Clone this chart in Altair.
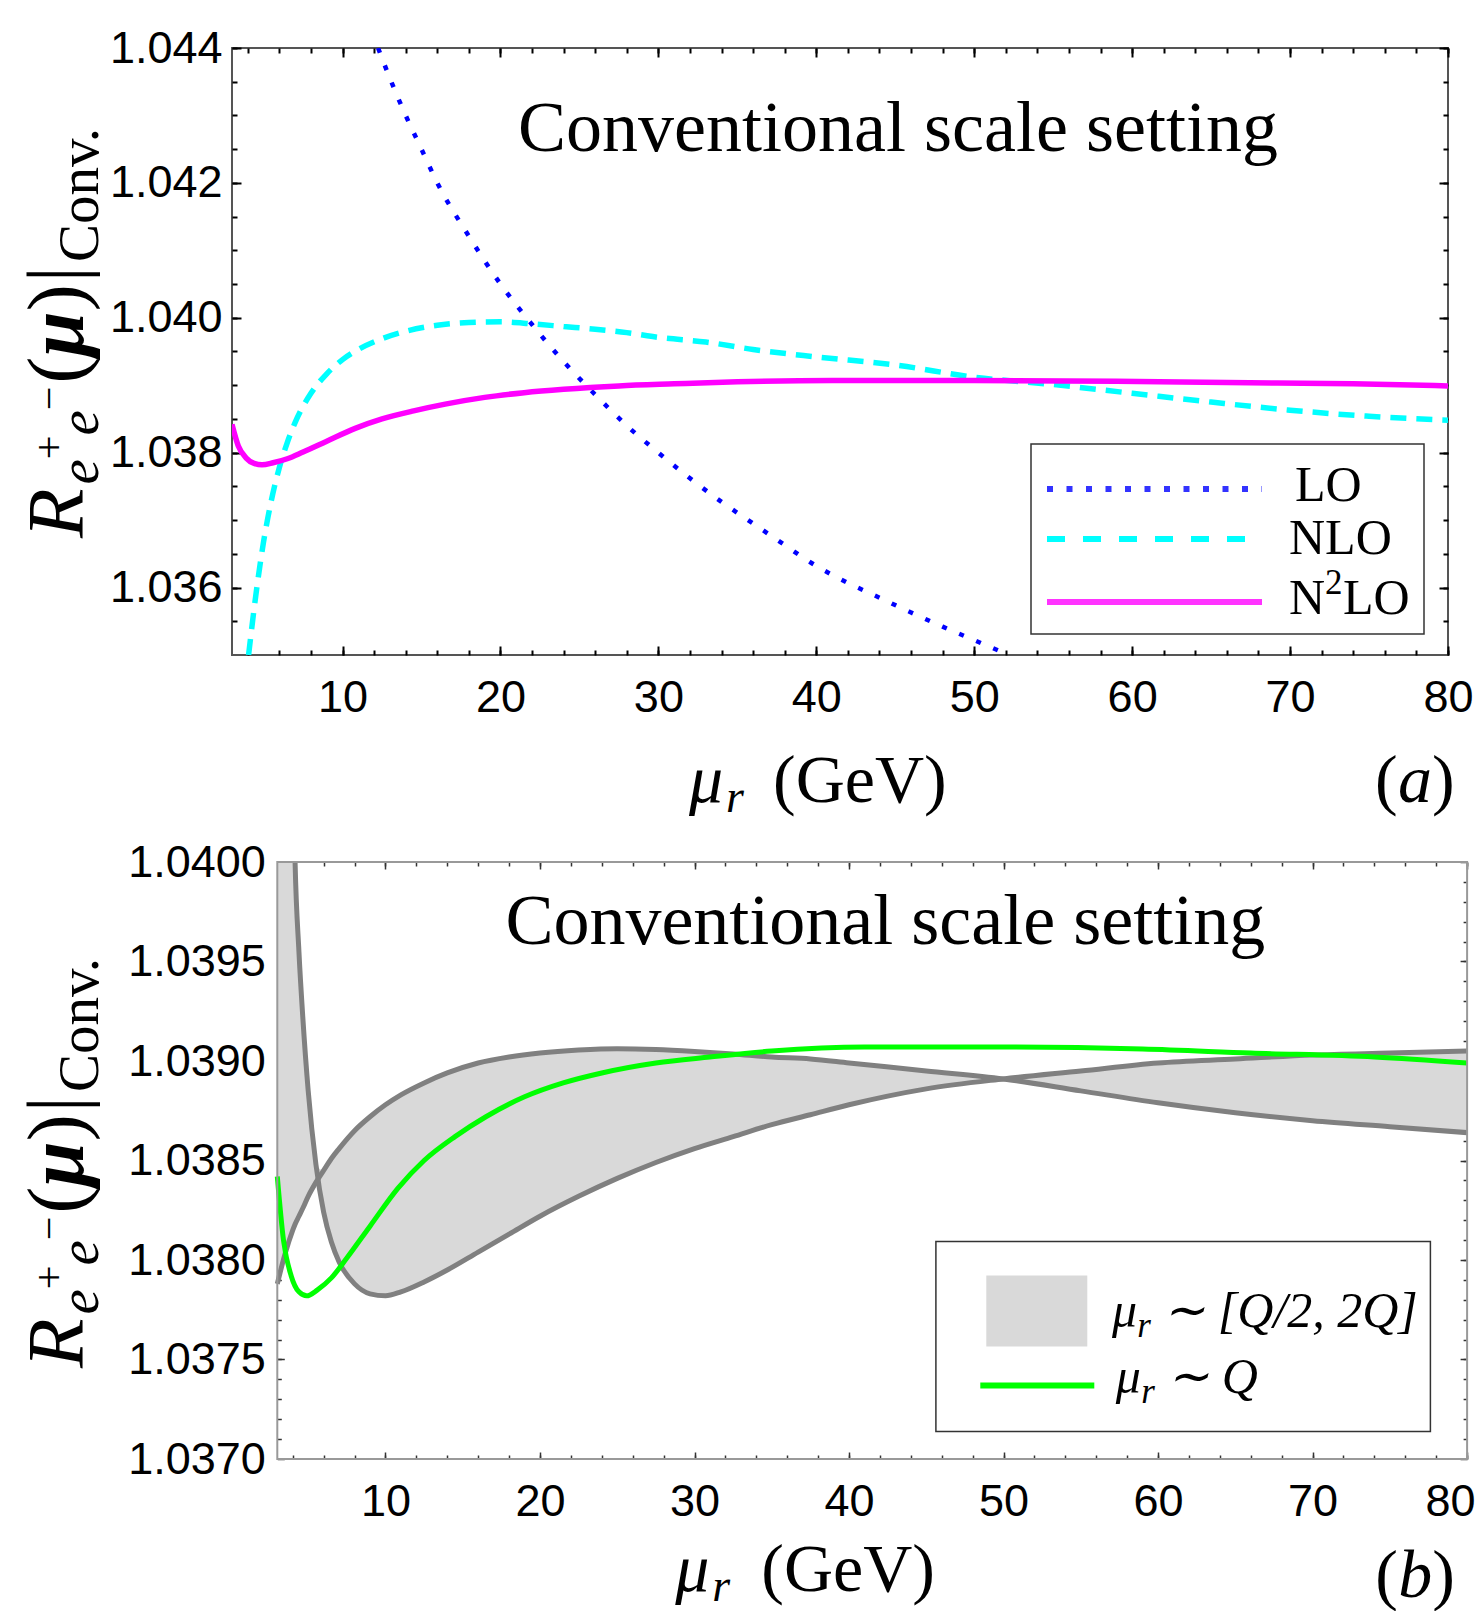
import altair as alt
import pandas as pd

# ---------------- data ----------------
LO_X = [12.25, 13, 14, 15, 16, 18, 20, 22, 24, 26, 28, 30, 32, 34, 36, 38, 40, 42, 44, 46, 48, 50, 52.2]
LO_Y = [1.04400, 1.04355, 1.04300, 1.04250, 1.04200, 1.04121, 1.04050, 1.03990, 1.03935, 1.03886,
        1.03840, 1.03800, 1.03762, 1.03727, 1.03695, 1.03663, 1.03632, 1.03607, 1.03585, 1.03563,
        1.03542, 1.03522, 1.03500]

NLO_X = [4.05, 4.5, 5.0, 5.5, 6.0, 6.5, 7.0, 8.0, 9.0, 10.0, 11.0, 12.5, 14.0, 16.0, 18.0, 20.0,
         22.0, 24.0, 26.0, 28.0, 30.0, 33.0, 36.0, 40.0, 45.0, 50.0, 55.0, 60.0, 65.0, 70.0, 75.0, 80.0]
NLO_Y = [1.03500, 1.03587, 1.03668, 1.03730, 1.03778, 1.03815, 1.03845, 1.03888, 1.03917, 1.03938,
         1.03953, 1.03969, 1.03980, 1.03989, 1.03993, 1.03994, 1.03991, 1.03987, 1.03983, 1.03978,
         1.03971, 1.03964, 1.03953, 1.03942, 1.03930, 1.03912, 1.03901, 1.03888, 1.03875, 1.03863,
         1.03854, 1.03848]

N2LO_X = [3.0, 3.4, 3.9, 4.4, 4.9, 5.6, 6.5, 7.5, 9.0, 10.8, 12.5, 14.5, 16.5, 19.0, 21.5, 24.0,
          27.5, 31.0, 35.0, 41.0, 50.0, 59.0, 66.0, 74.0, 80.0]
N2LO_Y = [1.03842, 1.03810, 1.03792, 1.03784, 1.03782, 1.03785, 1.03791, 1.03801, 1.03817, 1.03836,
          1.03850, 1.03862, 1.03872, 1.03882, 1.03889, 1.03894, 1.03899, 1.03902, 1.03905, 1.03907,
          1.03907, 1.03906, 1.03904, 1.03902, 1.03899]

BAND_X = [3.0, 3.5, 4.0, 4.15, 4.4, 4.65, 5.0, 5.5, 6.0, 6.5, 7.0, 8.0, 9.0, 10.0, 11.0, 12.5, 14.0,
          16.0, 18.0, 20.0, 22.5, 25.0, 27.5, 30.0, 32.5, 35.0, 37.5, 40.0, 45.0, 50.0, 55.0, 60.0,
          65.0, 70.0, 75.0, 80.0]
CURVE_A = [1.0470, 1.0432, 1.0406, 1.0400, 1.03955, 1.03922, 1.03885, 1.03848, 1.03824, 1.03809,
           1.03799, 1.03788, 1.03783, 1.03782, 1.03784, 1.03789, 1.03795, 1.03804, 1.03813, 1.03822,
           1.03832, 1.03841, 1.03849, 1.03856, 1.03862, 1.03868, 1.03873, 1.03878, 1.03886, 1.03891,
           1.03895, 1.03899, 1.03901, 1.03903, 1.03904, 1.03905]
CURVE_B = [1.03788, 1.03803, 1.03815, 1.03818, 1.03822, 1.03826, 1.03832, 1.03839, 1.03845, 1.03851,
           1.03856, 1.03865, 1.03872, 1.03878, 1.03883, 1.03889, 1.03894, 1.03899, 1.03902, 1.039040,
           1.039055, 1.039062, 1.039058, 1.039048, 1.039035, 1.03902, 1.03901, 1.03899, 1.03895, 1.03891,
           1.03885, 1.03879, 1.03874, 1.03870, 1.03867, 1.03864]

X_MAJOR = [10, 20, 30, 40, 50, 60, 70, 80]
X_MINOR = list(range(4, 81, 2))
TOP_Y_MAJOR = [1.036, 1.038, 1.040, 1.042, 1.044]
TOP_Y_MINOR = [round(1.0355 + 0.0005 * i, 4) for i in range(18)]
BOT_Y_MAJOR = [1.0370, 1.0375, 1.0380, 1.0385, 1.0390, 1.0395, 1.0400]
BOT_Y_MINOR = [round(1.0371 + 0.0001 * i, 4) for i in range(29)]

# ---------------- helpers ----------------
SERIF = "Liberation Serif"
SANS = "Liberation Sans"
one = pd.DataFrame({"k": [0]})

df_lo = pd.DataFrame({"x": LO_X, "y": LO_Y})
df_nlo = pd.DataFrame({"x": NLO_X, "y": NLO_Y})
df_n2 = pd.DataFrame({"x": N2LO_X, "y": N2LO_Y})
df_band = pd.DataFrame({"x": BAND_X,
                        "lo": [min(a, b) for a, b in zip(CURVE_A, CURVE_B)],
                        "hi": [max(a, b) for a, b in zip(CURVE_A, CURVE_B)]})
df_a = pd.DataFrame({"x": BAND_X, "y": CURVE_A})
df_b = pd.DataFrame({"x": BAND_X, "y": CURVE_B})


def txt(s, x, y, size, style="normal", align="left", baseline="alphabetic", angle=0, weight="normal"):
    return alt.Chart(one).mark_text(
        text=s, font=SERIF, fontSize=size, fontStyle=style, fontWeight=weight, align=align,
        baseline=baseline, angle=angle, color="black"
    ).encode(x=alt.value(x), y=alt.value(y))


def hline(x1, x2, y, color, width, dash=None):
    kw = dict(color=color, strokeWidth=width, strokeCap="butt")
    if dash:
        kw["strokeDash"] = dash
    return alt.Chart(one).mark_rule(**kw).encode(x=alt.value(x1), x2=alt.value(x2), y=alt.value(y))


def box(x1, x2, y1, y2, fill, stroke=None, sw=0, fill_opacity=1):
    kw = dict(fill=fill, fillOpacity=fill_opacity)
    if stroke:
        kw.update(stroke=stroke, strokeWidth=sw)
    return alt.Chart(one).mark_rect(**kw).encode(
        x=alt.value(x1), x2=alt.value(x2), y=alt.value(y1), y2=alt.value(y2))


def axis_carriers(xs, ys, yfmt, major, minor, tcol, tw, padx, pady, ymaj, ymin, left_shift=0.0,
                  flush_last=False):
    out = []
    specs = [("bottom", "left", X_MAJOR, ymaj, major, True),
             ("bottom", "left", X_MINOR, ymin, minor, False),
             ("top", "right", X_MAJOR, ymaj, major, False),
             ("top", "right", X_MINOR, ymin, minor, False)]
    for xo, yo, xv, yv, ts, lab in specs:
        common = dict(tickSize=ts, domain=False, grid=False, labels=lab, title=None,
                      tickColor=tcol, tickWidth=tw, labelFont=SANS, labelFontSize=45,
                      labelColor="black")
        if flush_last:
            xa = alt.Axis(orient=xo, values=xv, offset=-ts, labelPadding=padx, labelFlush=True,
                          labelFlushOffset=8, format="d", **common)
        else:
            xa = alt.Axis(orient=xo, values=xv, offset=-ts, labelPadding=padx, labelFlush=False,
                          format="d", **common)
        yoff = -(ts + left_shift) if yo == "left" else -ts
        ya = alt.Axis(orient=yo, values=yv, offset=yoff, labelPadding=pady, format=yfmt, **common)
        out.append(alt.Chart(df_n2).mark_point(opacity=0, clip=True).encode(
            x=alt.X("x:Q", scale=xs, axis=xa), y=alt.Y("y:Q", scale=ys, axis=ya)))
    return out


def ytitle(xb, y0):
    M, S, SS = 81, 57, 42
    pieces = [("R", M, "italic", "normal", 0, 0.611 * M + 4),
              ("e", S, "italic", "normal", 15, 0.444 * S),
              ("+", SS, "normal", "normal", -20, 0.564 * SS),
              ("e", S, "italic", "normal", 15, 0.444 * S),
              ("\u2212", SS, "normal", "normal", -20, 0.564 * SS + 3),
              ("(", M, "normal", "normal", 0, 0.333 * M),
              ("\u03bc", M, "italic", "bold", 0, 0.56 * M),
              (")", M, "normal", "normal", 0, 0.333 * M + 2),
              ("|", M, "normal", "normal", 0, 0.2 * M + 4),
              ("Conv.", S, "normal", "normal", 15, 2.417 * S)]
    layers, off = [], 0.0
    for t, size, style, weight, shift, adv in pieces:
        layers.append(txt(t, xb + shift, y0 - off, size, style=style, angle=270, weight=weight))
        off += adv
    return layers


def xtitle(xmu, xgev, yb, xpar, ypar, letter):
    return [txt("\u03bc", xmu, yb, 68, "italic"),
            txt("r", xmu + 37, yb + 10, 46, "italic"),
            txt("(GeV)", xgev, yb, 68),
            txt("(", xpar, ypar, 68),
            txt(letter, xpar + 23, ypar, 68, "italic"),
            txt(")", xpar + 57, ypar, 68)]


def line(df, color, width, dash=None, scale_x=None, scale_y=None):
    kw = dict(color=color, strokeWidth=width, clip=True, interpolate="monotone")
    if dash:
        kw["strokeDash"] = dash
    return alt.Chart(df).mark_line(**kw).encode(
        x=alt.X("x:Q", scale=scale_x, axis=None), y=alt.Y("y:Q", scale=scale_y, axis=None))


# ---------------- top panel ----------------
W1, H1 = 1216, 607
xs1 = alt.Scale(domain=[3, 80], nice=False, zero=False)
ys1 = alt.Scale(domain=[1.035, 1.044], nice=False, zero=False)

top_layers = axis_carriers(xs1, ys1, ".3f", 9, 5, "black", 2, 20, 10, TOP_Y_MAJOR, TOP_Y_MINOR)
top_layers += [
    line(df_lo, "#0000ff", 4.5, [5, 13.5], xs1, ys1),
    line(df_nlo, "#00ffff", 5.5, [16, 10], xs1, ys1),
    line(df_n2, "#ff00ff", 5.5, None, xs1, ys1),
    txt("Conventional scale setting", 666, 103, 72, align="center"),
    box(799, 1192, 396, 586, "white", "#333333", 1.5),
    hline(815, 1030, 441, "#3333ff", 6, [6, 13.5]),
    hline(815, 1030, 491, "#00ffff", 6, [18, 18]),
    hline(815, 1030, 554, "#ff33ff", 6),
    txt("LO", 1063, 453, 50),
    txt("NLO", 1057, 506, 50),
    txt("N", 1057, 566, 50),
    txt("2", 1093, 546, 35),
    txt("LO", 1111, 566, 50),
]
top_layers += ytitle(-148.6, 490)
top_layers += xtitle(457, 541, 753.7, 1143, 753.7, "a")

top = alt.layer(*top_layers).resolve_scale(x="shared", y="shared").resolve_axis(
    x="independent", y="independent").properties(
    width=W1, height=H1, view=alt.ViewBackground(stroke="#555555", strokeWidth=2, fill="white"))

# ---------------- bottom panel ----------------
# the bottom frame starts DX px to the right of the top frame (same view origin)
DX = 45.3
W2, H2 = 1235.1, 597
xs2 = alt.Scale(domain=[3, 80], range=[DX, W2], nice=False, zero=False)
ys2 = alt.Scale(domain=[1.037, 1.040], nice=False, zero=False)

bot_layers = axis_carriers(xs2, ys2, ".4f", 7, 4, "#333333", 1.5, 20, 12, BOT_Y_MAJOR, BOT_Y_MINOR,
                           left_shift=DX, flush_last=True)
bot_layers += [
    alt.Chart(df_band).mark_area(color="#d9d9d9", opacity=1, clip=True, interpolate="monotone").encode(
        x=alt.X("x:Q", scale=xs2, axis=None), y=alt.Y("lo:Q", scale=ys2, axis=None), y2="hi:Q"),
    line(df_a, "#808080", 5, None, xs2, ys2),
    line(df_b, "#808080", 5, None, xs2, ys2),
    line(df_n2, "#00ff00", 5, None, xs2, ys2),
    box(DX, W2, 0, H2, "white", "#999999", 2, fill_opacity=0),
    txt("Conventional scale setting", 608 + DX, 82, 72, align="center"),
    box(658.6 + DX, 1153.1 + DX, 379.6, 569.4, "white", "#333333", 1.5),
    box(709 + DX, 810 + DX, 413.4, 484.4, "#d9d9d9"),
    hline(703 + DX, 817 + DX, 523.4, "#00ff00", 6),
    txt("\u03bc", 834.6 + DX, 465.4, 50, "italic"),
    txt("r", 860 + DX, 475, 35, "italic"),
    txt("\u223c [Q/2, 2Q]", 886 + DX, 465.4, 50, "italic"),
    txt("\u03bc", 838.5 + DX, 531.4, 50, "italic"),
    txt("r", 864 + DX, 541, 35, "italic"),
    txt("\u223c Q", 890 + DX, 531.4, 50, "italic"),
]
bot_layers += ytitle(-148.6, 506)
bot_layers += xtitle(398 + DX, 484 + DX, 729.0, 1098 + DX, 735.0, "b")

bottom = alt.layer(*bot_layers).resolve_scale(x="shared", y="shared").resolve_axis(
    x="independent", y="independent").properties(
    width=W2, height=H2, view=alt.ViewBackground(strokeWidth=0, fill="white"))

chart = alt.concat(top, bottom, columns=1, spacing=18, align="none").properties(
    padding={"left": 17, "top": 25, "right": 0, "bottom": 0}, background="white")

chart.save("out.html", embed_options={"renderer": "svg", "actions": False})
